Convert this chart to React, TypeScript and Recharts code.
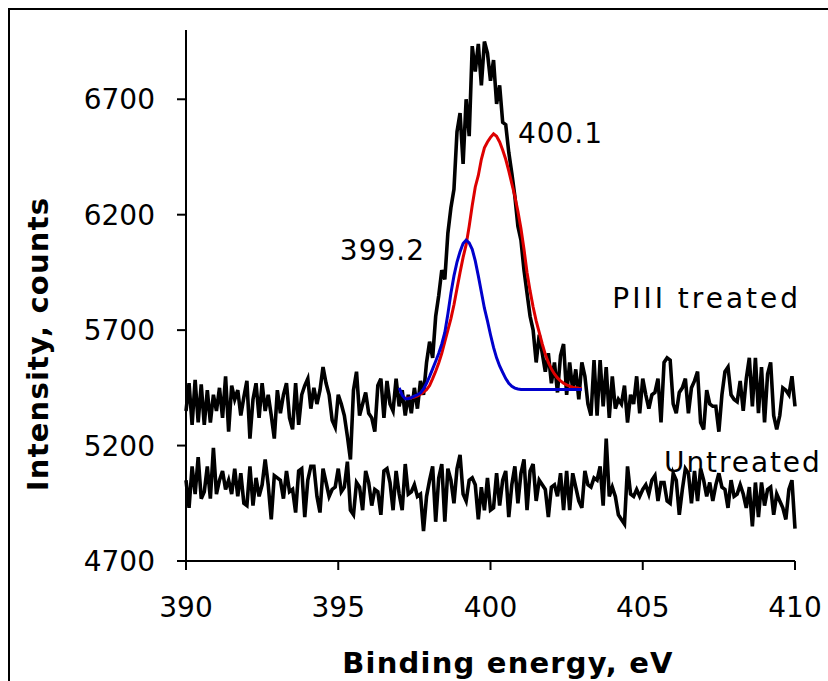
import React from "react";
import { LineChart, Line, XAxis, YAxis, ReferenceDot } from "recharts";

// N 1s spectra, 0.1 eV step from 390.0 to 410.0
const piiiCounts = [
  5350, 5470, 5290, 5485, 5300, 5465, 5290, 5440, 5300, 5420,
  5350, 5450, 5320, 5500, 5260, 5460, 5400, 5440, 5330, 5410,
  5480, 5230, 5400, 5470, 5320, 5470, 5350, 5420, 5330, 5230,
  5440, 5340, 5420, 5470, 5320, 5270, 5470, 5290, 5420, 5460,
  5490, 5360, 5450, 5380, 5440, 5540, 5470, 5420, 5310, 5280,
  5420, 5380, 5330, 5240, 5140, 5440, 5520, 5330, 5380, 5430,
  5340, 5320, 5260, 5460, 5490, 5320, 5480, 5380, 5350, 5490,
  5370, 5440, 5330, 5420, 5340, 5450, 5360, 5480, 5420, 5560,
  5650, 5580, 5760, 5850, 5960, 5920, 6120, 6230, 6310, 6560,
  6640, 6420, 6700, 6540, 6930, 6820, 6940, 6760, 6950, 6900,
  6780, 6870, 6680, 6760, 6600, 6590, 6470, 6380, 6280, 6150,
  6090, 5960, 5860, 5760, 5700, 5560, 5680, 5600, 5520, 5600,
  5470, 5560, 5430, 5590, 5640, 5420, 5560, 5440, 5530, 5400,
  5560, 5500, 5380, 5330, 5570, 5330, 5570, 5370, 5540, 5320,
  5500, 5360, 5400, 5380, 5460, 5300, 5420, 5380, 5500, 5340,
  5490, 5420, 5360, 5420, 5430, 5490, 5300, 5560, 5580, 5570,
  5380, 5340, 5430, 5450, 5490, 5340, 5450, 5480, 5520, 5300,
  5270, 5440, 5380, 5370, 5370, 5260, 5420, 5520, 5540, 5420,
  5400, 5390, 5480, 5350, 5490, 5580, 5370, 5580, 5340, 5540,
  5300, 5510, 5560, 5330, 5270, 5330, 5450, 5440, 5420, 5500,
  5370,
];

const untreatedCounts = [
  5050, 4930, 5110, 4990, 5150, 4970, 5000, 5110, 4970, 5190,
  4990, 5050, 5090, 5010, 5050, 4990, 5100, 4980, 5080, 4950,
  4940, 5110, 4940, 5060, 4980, 5030, 5140, 5030, 4880, 5070,
  5060, 5050, 4970, 5090, 5000, 5010, 4910, 5090, 5100, 4890,
  5050, 5110, 5110, 4980, 4910, 5100, 5040, 4980, 5010, 5020,
  5100, 5000, 5020, 5130, 4920, 4900, 5040, 5020, 4920, 5090,
  5040, 4940, 5010, 5000, 4900, 5090, 5100, 5040, 4920, 5090,
  4990, 4920, 5120, 4990, 5000, 5030, 4980, 4990, 4830, 4980,
  5050, 5110, 4870, 5060, 5120, 4870, 5100, 5050, 4950, 5100,
  5160, 4990, 4960, 5050, 5060, 5030, 4880, 5020, 4920, 5060,
  4920, 4930, 5080, 4940, 5050, 5090, 4890, 5030, 5110, 4950,
  5080, 5140, 4920, 5090, 5120, 4960, 5050, 5030, 5010, 4890,
  5020, 5030, 4980, 5080, 4920, 5090, 4920, 5080, 5020, 4960,
  4930, 5090, 5030, 5020, 5060, 5050, 5110, 4940, 5230, 4980,
  5020, 4980, 4900, 4880, 4860, 5110, 4990, 4980, 5010, 4980,
  5010, 5030, 4990, 5050, 5070, 4960, 5040, 5040, 4960, 4950,
  5080, 5050, 4900, 5010, 5100, 5080, 4950, 5090, 4960, 5100,
  5050, 4980, 5040, 4960, 5030, 5080, 5020, 5010, 4930, 5050,
  4980, 4990, 5030, 4990, 4930, 5020, 4850, 5040, 4890, 5040,
  4940, 5010, 5020, 4900, 4990, 4960, 4930, 4880, 5010, 5050,
  4840,
];

// fitted components, 0.1 eV step
const fit399Start = 397.0;
const fit399Counts = [
  5450, 5418, 5403, 5403, 5408, 5414, 5420, 5428, 5445, 5470,
  5500, 5532, 5565, 5600, 5640, 5690, 5770, 5860, 5935, 5995,
  6040, 6075, 6090, 6078, 6050, 6000, 5935, 5865, 5795, 5740,
  5680, 5625, 5580, 5545, 5517, 5490, 5470, 5457, 5449, 5445,
  5443, 5443, 5443, 5443, 5443, 5443, 5443, 5443, 5443, 5443,
  5443, 5443, 5443, 5443, 5443, 5443, 5443, 5443, 5443, 5443,
  5443,
];

const fit400Start = 397.2;
const fit400Counts = [
  5405, 5405, 5407, 5410, 5415, 5422, 5432, 5442,
  5460, 5490, 5522, 5558, 5600, 5650, 5700, 5750, 5810, 5880,
  5950, 6015, 6070, 6150, 6240, 6320, 6370, 6440, 6490, 6515,
  6535, 6550, 6540, 6515, 6480, 6440, 6390, 6335, 6280, 6215,
  6140, 6050, 5950, 5870, 5800, 5740, 5690, 5640, 5595, 5560,
  5532, 5510, 5493, 5480, 5470, 5463, 5457, 5453, 5450, 5448,
  5447,
];

const xTicks = [390, 395, 400, 405, 410];
const yTicks = [4700, 5200, 5700, 6200, 6700];

const toPoints = (start: number, values: number[]) =>
  values.map((y, i) => ({ x: Math.round((start + i * 0.1) * 10) / 10, y }));

const piiiData = toPoints(390, piiiCounts);
const untreatedData = toPoints(390, untreatedCounts);
const fit399Data = toPoints(fit399Start, fit399Counts);
const fit400Data = toPoints(fit400Start, fit400Counts);

const FONT = "'DejaVu Sans', Verdana, sans-serif";

const textLabel = (text: string, anchor: "start" | "end", spacing = 0.5) => (props: any) => {
  const vb = props.viewBox || {};
  return (
    <text
      x={vb.x + 1}
      y={vb.y + 1}
      textAnchor={anchor}
      dominantBaseline="central"
      fontSize={28}
      letterSpacing={spacing}
      fontFamily={FONT}
      fill="#000"
    >
      {text}
    </text>
  );
};

export default function App() {
  return (
    <div
      style={{
        position: "fixed",
        left: 0,
        top: 0,
        width: 828,
        height: 681,
        overflow: "hidden",
        background: "#fff",
      }}
    >
      <div
        style={{
          position: "absolute",
          left: 8,
          top: 8,
          width: 900,
          height: 900,
          border: "2px solid #000",
        }}
      />
      <div style={{ position: "absolute", left: 0, top: 0 }}>
        <LineChart
          width={828}
          height={681}
          margin={{ top: 30, right: 33, bottom: 60, left: 86 }}
        >
          <XAxis
            dataKey="x"
            type="number"
            domain={[390, 410]}
            ticks={xTicks}
            interval={0}
            height={60}
            tickSize={9}
            tickMargin={27}
            axisLine={{ stroke: "#000", strokeWidth: 2 }}
            tickLine={{ stroke: "#000", strokeWidth: 2 }}
            tick={{ fill: "#000", fontSize: 28, fontFamily: FONT }}
          />
          <YAxis
            type="number"
            domain={[4700, 7000]}
            ticks={yTicks}
            interval={0}
            width={100}
            tickSize={9}
            tickMargin={22}
            axisLine={{ stroke: "#000", strokeWidth: 2 }}
            tickLine={{ stroke: "#000", strokeWidth: 2 }}
            tick={{ fill: "#000", fontSize: 28, fontFamily: FONT }}
          />
          <Line
            data={untreatedData}
            dataKey="y"
            type="linear"
            stroke="#000"
            strokeWidth={3.6}
            dot={false}
            isAnimationActive={false}
          />
          <Line
            data={piiiData}
            dataKey="y"
            type="linear"
            stroke="#000"
            strokeWidth={3.6}
            dot={false}
            isAnimationActive={false}
          />
          <Line
            data={fit400Data}
            dataKey="y"
            type="linear"
            stroke="#dd0000"
            strokeWidth={3}
            dot={false}
            isAnimationActive={false}
          />
          <Line
            data={fit399Data}
            dataKey="y"
            type="linear"
            stroke="#0000cc"
            strokeWidth={3}
            dot={false}
            isAnimationActive={false}
          />
          <ReferenceDot x={400.9} y={6550} r={1} fill="none" stroke="none" label={textLabel("400.1", "start", 1)} />
          <ReferenceDot x={397.85} y={6043} r={1} fill="none" stroke="none" label={textLabel("399.2", "end", 1)} />
          <ReferenceDot x={404.0} y={5836} r={1} fill="none" stroke="none" label={textLabel("PIII treated", "start", 3)} />
          <ReferenceDot x={405.7} y={5128} r={1} fill="none" stroke="none" label={textLabel("Untreated", "start", 1.9)} />
        </LineChart>
      </div>
      <svg
        width={828}
        height={681}
        style={{ position: "absolute", left: 0, top: 0, pointerEvents: "none" }}
      >
        <text
          x={508}
          y={663}
          textAnchor="middle"
          dominantBaseline="central"
          fontSize={29}
          letterSpacing={1.2}
          fontWeight="bold"
          fontFamily={FONT}
          fill="#000"
        >
          Binding energy, eV
        </text>
        <text
          transform="translate(38,344) rotate(-90)"
          textAnchor="middle"
          dominantBaseline="central"
          fontSize={29}
          letterSpacing={1.2}
          fontWeight="bold"
          fontFamily={FONT}
          fill="#000"
        >
          Intensity, counts
        </text>
      </svg>
    </div>
  );
}
